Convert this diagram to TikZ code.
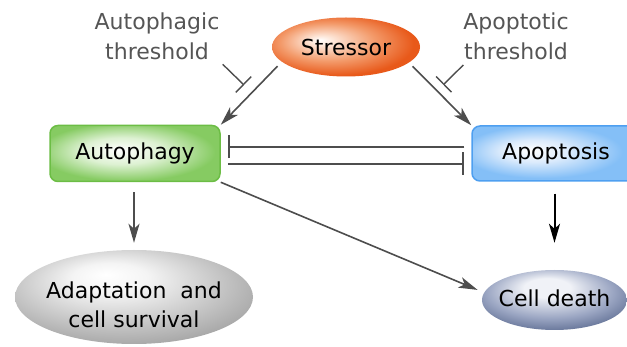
\documentclass[tikz,border=0pt]{standalone}
\usepackage{fontspec}
\setmainfont{DejaVu Sans}
\usetikzlibrary{arrows.meta,shapes.geometric}
\definecolor{lineg}{HTML}{4D4D4D}
\definecolor{textg}{HTML}{555555}
\definecolor{orangeD}{HTML}{E8591A}
\definecolor{orangeM}{HTML}{F39A6A}
\definecolor{orangeL}{HTML}{FDE6D8}
\definecolor{greenB}{HTML}{6CBD45}
\definecolor{greenF}{HTML}{86CB62}
\definecolor{greenL}{HTML}{DDF1D2}
\definecolor{blueB}{HTML}{4E9FF0}
\definecolor{blueF}{HTML}{84BFF7}
\definecolor{blueL}{HTML}{DCEBFC}
\definecolor{greyF}{HTML}{A2A2A2}
\definecolor{greyD}{HTML}{8E8E8E}
\definecolor{greyL}{HTML}{F4F4F4}
\definecolor{slateD}{HTML}{46577F}
\definecolor{slateM}{HTML}{9AA5C2}
\definecolor{slateL}{HTML}{F0F2F7}
\pgfdeclareradialshading{shStress}{\pgfpoint{-9bp}{6bp}}{color(0bp)=(white); color(4bp)=(orangeL); color(16bp)=(orangeM); color(27bp)=(orangeD); color(50bp)=(orangeD)}
\pgfdeclareradialshading{shGreen}{\pgfpoint{-5bp}{3bp}}{color(0bp)=(white); color(12bp)=(greenL); color(26bp)=(greenF); color(50bp)=(greenF)}
\pgfdeclareradialshading{shBlue}{\pgfpoint{-8bp}{3bp}}{color(0bp)=(white); color(10bp)=(blueL); color(24bp)=(blueF); color(50bp)=(blueF)}
\pgfdeclareradialshading{shGrey}{\pgfpoint{-6bp}{12bp}}{color(0bp)=(white); color(8bp)=(greyL); color(32bp)=(greyF); color(50bp)=(greyD)}
\pgfdeclareradialshading{shSlate}{\pgfpoint{-3bp}{12bp}}{color(0bp)=(slateL); color(8bp)=(slateL); color(22bp)=(slateM); color(36bp)=(slateD); color(50bp)=(slateD)}
\begin{document}
\begin{tikzpicture}[x=1pt,y=-1pt,
  lbl/.style={font=\fontsize{22}{29}\selectfont, text=black, inner sep=0pt},
  oval/.style={lbl, ellipse, draw=none},
  box/.style={lbl, rectangle, rounded corners=8pt, line width=1.5pt},
  thr/.style={font=\fontsize{22}{30}\selectfont, text=textg, align=center, inner sep=0pt},
  arr/.style={draw=lineg, line width=1.6pt, -{Stealth[length=19pt,width=11pt,inset=5pt]}},
  arrk/.style={draw=black, line width=2pt, -{Stealth[length=19pt,width=11pt,inset=5pt]}},
  inh/.style={draw=lineg, line width=2pt, -{Bar[width=23pt]}},
  thrbar/.style={draw=lineg, line width=1.4pt, -{Bar[width=22pt]}}]
\useasboundingbox (0,0) rectangle (627,347);
\clip (0,0) rectangle (627,347);
% nodes
\node[oval, shading=shStress, minimum width=148pt, minimum height=59pt] (stressor) at (346,47) {Stressor};
\node[box, draw=greenB, shading=shGreen, minimum width=170pt, minimum height=56pt] (autophagy) at (135,153.5) {Autophagy};
\node[box, draw=blueB, shading=shBlue, minimum width=168pt, minimum height=55pt] (apoptosis) at (556,153.5) {Apoptosis};
\node[oval, shading=shGrey, minimum width=238pt, minimum height=94pt] (adapt) at (134,297)
  {\raisebox{-15pt}[0pt][0pt]{\makebox[0pt]{\begin{tabular}{@{}c@{}}Adaptation\ \ and\\cell survival\end{tabular}}}};
\node[oval, shading=shSlate, minimum width=145pt, minimum height=60pt] (celldeath) at (554.5,300)
  {\raisebox{-7pt}[0pt][0pt]{\makebox[0pt]{Cell death}}};
\node[thr] (athr) at (157,36) {Autophagic\\threshold};
\node[thr] (pthr) at (516,36) {Apoptotic\\threshold};
% threshold bars
\coordinate (athS) at (222.7,64.3);
\coordinate (athE) at (244,85);
\coordinate (pthS) at (463.3,65);
\coordinate (pthE) at (443.3,84.8);
\draw[thrbar] (athS) -- (athE);
\draw[thrbar] (pthS) -- (pthE);
% connectors
\draw[arr, shorten <=6pt] (stressor.193) -- (autophagy.north east);
\draw[arr, shorten <=5pt] (stressor.346.4) -- (apoptosis.north west);
\draw[inh, shorten <=7pt, shorten >=7pt] ([yshift=6.8pt]apoptosis.west) -- ([yshift=6.8pt]autophagy.east |- apoptosis.west);
\draw[inh, shorten <=7pt, shorten >=7pt] ([yshift=-10.5pt]autophagy.east) -- ([yshift=-10.5pt]apoptosis.west |- autophagy.east);
\draw[arr, shorten <=10pt, shorten >=7pt] (autophagy.south -| adapt.north) -- (adapt.north);
\draw[arrk, shorten <=12pt, shorten >=27pt] (apoptosis.south -| celldeath.north) -- (celldeath.north);
\draw[arr, shorten >=7pt] (autophagy.south east) -- (celldeath.174.3);
\end{tikzpicture}
\end{document}
